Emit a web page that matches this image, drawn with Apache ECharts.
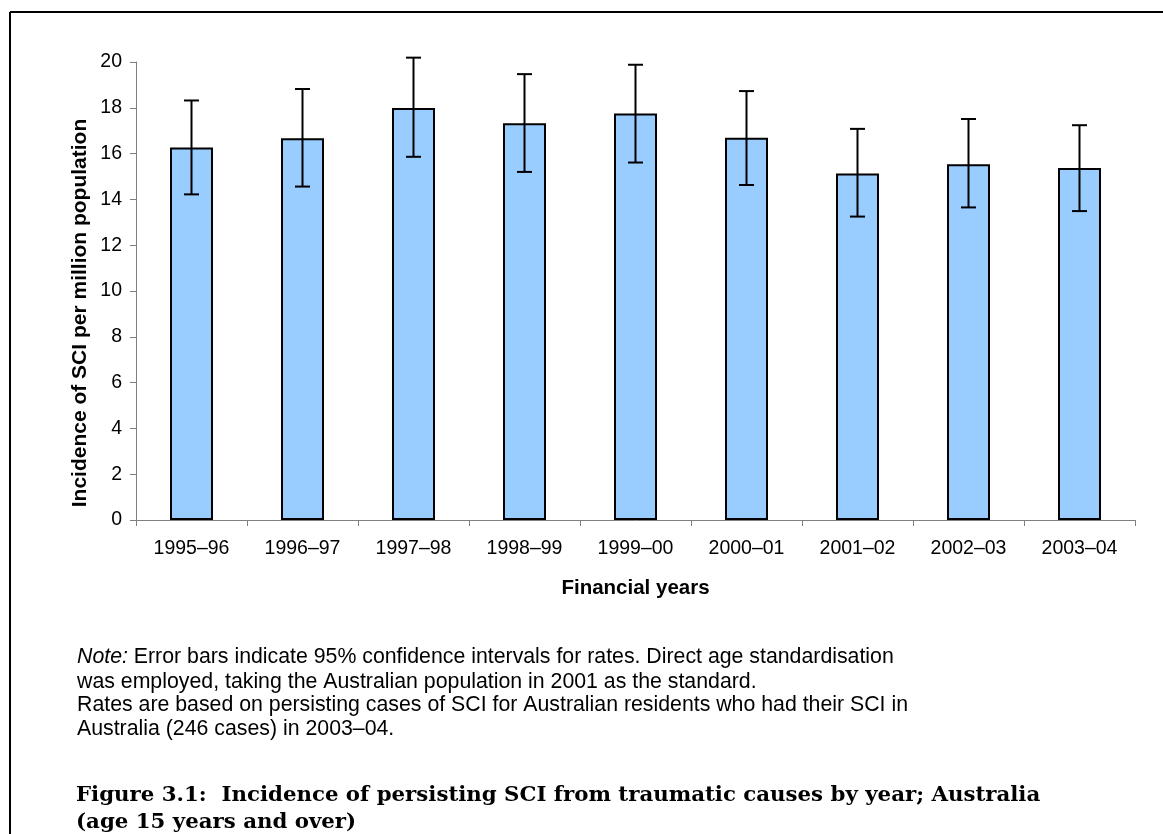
<!DOCTYPE html>
<html>
<head>
<meta charset="utf-8">
<script src="https://cdn.jsdelivr.net/npm/echarts@6/dist/echarts.min.js"></script>
<style>
  html, body { margin: 0; padding: 0; background: #fff; }
  #chart { width: 1163px; height: 834px; }
</style>
</head>
<body>
<div id="chart"></div>
<script>
// Financial years and incidence of persisting SCI per million population
var years = ['1995–96', '1996–97', '1997–98', '1998–99', '1999–00', '2000–01', '2001–02', '2002–03', '2003–04'];
var rates = [16.27, 16.67, 17.99, 17.33, 17.75, 16.69, 15.13, 15.54, 15.37];
// 95% confidence interval bounds
var lowerCI = [14.22, 14.56, 15.86, 15.20, 15.61, 14.63, 13.25, 13.65, 13.49];
var upperCI = [18.32, 18.82, 20.19, 19.47, 19.88, 18.73, 17.08, 17.51, 17.24];
var yTicks = [0, 2, 4, 6, 8, 10, 12, 14, 16, 18, 20];

var noteLines = [
  'Error bars indicate 95% confidence intervals for rates. Direct age standardisation',
  'was employed, taking the Australian population in 2001 as the standard.',
  'Rates are based on persisting cases of SCI for Australian residents who had their SCI in',
  'Australia (246 cases) in 2003–04.'
];
var captionLines = [
  'Figure 3.1:  Incidence of persisting SCI from traumatic causes by year; Australia',
  '(age 15 years and over)'
];

var sans = '"Liberation Sans", Arial, sans-serif';
var serif = '"DejaVu Serif", "Liberation Serif", serif';

var errorData = years.map(function (y, i) { return [i, lowerCI[i], upperCI[i]]; });

var graphics = [
  // page frame (left and top rules)
  { type: 'line', shape: { x1: 10, y1: 12, x2: 10, y2: 834 }, style: { stroke: '#000', lineWidth: 2 } },
  { type: 'line', shape: { x1: 10, y1: 12, x2: 1163, y2: 12 }, style: { stroke: '#000', lineWidth: 2 } },
  // y-axis title
  {
    type: 'text', x: 80, y: 313, rotation: Math.PI / 2,
    style: {
      text: 'Incidence of SCI per million population',
      font: 'bold 21px ' + sans, fill: '#000', align: 'center', verticalAlign: 'middle'
    }
  }
];

var noteY = [657, 682, 705, 729];
var noteFont = '21.3px ' + sans;
noteLines.forEach(function (t, i) {
  graphics.push({
    type: 'text', x: 77, y: noteY[i],
    style: i === 0 ? {
      text: '{i|Note:} ' + t,
      rich: { i: { font: 'italic ' + noteFont, fill: '#000' } },
      font: noteFont, fill: '#000', align: 'left', verticalAlign: 'middle'
    } : {
      text: t, font: noteFont, fill: '#000', align: 'left', verticalAlign: 'middle'
    }
  });
});

var capY = [795, 822];
captionLines.forEach(function (t, i) {
  graphics.push({
    type: 'text', x: 76, y: capY[i],
    style: { text: t, font: 'bold 21.3px ' + serif, fill: '#000', align: 'left', verticalAlign: 'middle' }
  });
});

var chart = echarts.init(document.getElementById('chart'), null, { renderer: 'canvas' });
chart.setOption({
  animation: false,
  backgroundColor: '#fff',
  grid: { left: 136, right: 28, top: 62, bottom: 314, containLabel: false },
  xAxis: {
    type: 'category',
    data: years,
    boundaryGap: true,
    axisLine: { lineStyle: { color: '#808080', width: 1 } },
    axisTick: { show: true, alignWithLabel: false, length: 6, lineStyle: { color: '#808080' } },
    axisLabel: { color: '#000', fontFamily: sans, fontSize: 19.5, margin: 19 },
    name: 'Financial years',
    nameLocation: 'middle',
    nameGap: 58,
    nameTextStyle: { color: '#000', fontFamily: sans, fontSize: 20.5, fontWeight: 'bold' }
  },
  yAxis: {
    type: 'value',
    min: 0, max: 20, interval: 2,
    axisLine: { show: true, lineStyle: { color: '#808080', width: 1 } },
    axisTick: { show: true, inside: false, length: 6, lineStyle: { color: '#808080' } },
    splitLine: { show: false },
    axisLabel: {
      color: '#000', fontFamily: sans, fontSize: 19.5, margin: 14,
      formatter: function (v) { return yTicks.indexOf(v) >= 0 ? String(v) : ''; }
    }
  },
  series: [
    {
      type: 'bar',
      data: rates,
      barWidth: 43,
      itemStyle: { color: '#99CCFF', borderColor: '#000', borderWidth: 2 }
    },
    {
      type: 'custom',
      clip: false,
      data: errorData,
      z: 5,
      renderItem: function (params, api) {
        var i = api.value(0);
        var lo = api.coord([i, api.value(1)]);
        var hi = api.coord([i, api.value(2)]);
        var half = 7.5;
        var st = { stroke: '#000', lineWidth: 2 };
        return {
          type: 'group',
          children: [
            { type: 'line', shape: { x1: hi[0], y1: hi[1], x2: lo[0], y2: lo[1] }, style: st },
            { type: 'line', shape: { x1: hi[0] - half, y1: hi[1], x2: hi[0] + half, y2: hi[1] }, style: st },
            { type: 'line', shape: { x1: lo[0] - half, y1: lo[1], x2: lo[0] + half, y2: lo[1] }, style: st }
          ]
        };
      }
    }
  ],
  graphic: graphics
});
</script>
</body>
</html>
